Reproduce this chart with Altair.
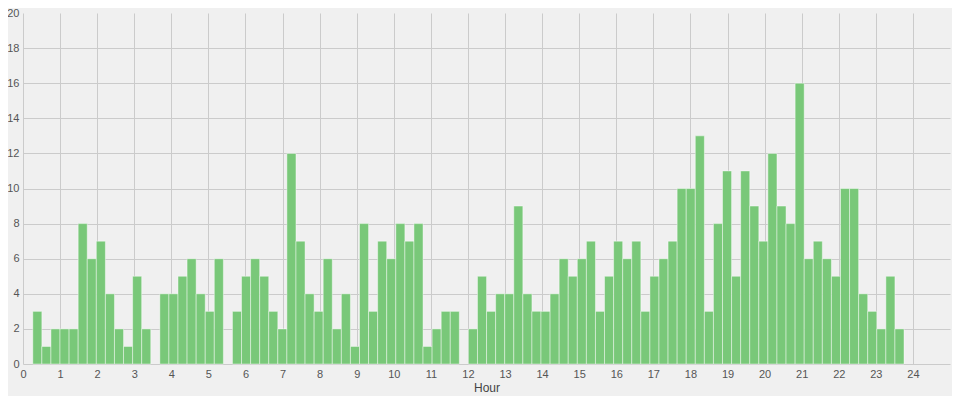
import altair as alt
import pandas as pd

# Histogram of hours: counts per bin (96 equal bins between data min and max)
counts = [3, 1, 2, 2, 2, 8, 6, 7, 4, 2, 1, 5, 2, 0, 4, 4, 5, 6, 4, 3, 6, 0,
          3, 5, 6, 5, 3, 2, 12, 7, 4, 3, 6, 2, 4, 1, 8, 3, 7, 6, 8, 7, 8, 1,
          2, 3, 3, 0, 2, 5, 3, 4, 4, 9, 4, 3, 3, 4, 6, 5, 6, 7, 3, 5, 7, 6,
          7, 3, 5, 6, 7, 10, 10, 13, 3, 8, 11, 5, 11, 9, 7, 12, 9, 8, 16, 6,
          7, 6, 5, 10, 10, 4, 3, 2, 5, 2]
hour_min = 0.264
hour_max = 23.76
x_ticks = list(range(0, 25))
y_ticks = list(range(0, 21, 2))

n = len(counts)
w = (hour_max - hour_min) / n
df = pd.DataFrame({
    "start": [hour_min + i * w for i in range(n)],
    "end": [hour_min + (i + 1) * w for i in range(n)],
    "count": counts,
})

FONT = "Liberation Sans"

chart = alt.Chart(df).transform_filter(
    "datum.count > 0"
).mark_bar(
    color="#79c879", stroke="#ffffff", strokeWidth=0.8, strokeOpacity=0.55
).encode(
    x=alt.X("start:Q", title="Hour",
            scale=alt.Scale(domain=[0, 25], nice=False, zero=False),
            axis=alt.Axis(values=x_ticks, format="d", labelFlush=False,
                          labelPadding=4, titlePadding=3)),
    x2="end:Q",
    y=alt.Y("count:Q", title=None,
            scale=alt.Scale(domain=[0, 20], nice=False),
            axis=alt.Axis(values=y_ticks, labelPadding=4, labelFlush=False,
                          gridOpacity={"condition": {"test": "datum.value == 20", "value": 0}, "value": 1})),
    y2=alt.datum(0),
).properties(
    width=927, height=351,
    autosize=alt.AutoSizeParams(type="none"),
    padding={"left": 15, "top": 5, "right": 2, "bottom": 32},
    background="#f0f0f0",
).configure_view(
    stroke=None, fill="#f0f0f0"
).configure_axis(
    grid=True, gridColor="#cbcbcb", gridWidth=1,
    domain=False, ticks=False,
    labelFont=FONT, labelFontSize=11, labelColor="#555555",
    titleFont=FONT, titleFontSize=12, titleColor="#444444", titleFontWeight="normal",
)

chart.save("out.html", embed_options={"renderer": "svg", "actions": False})
